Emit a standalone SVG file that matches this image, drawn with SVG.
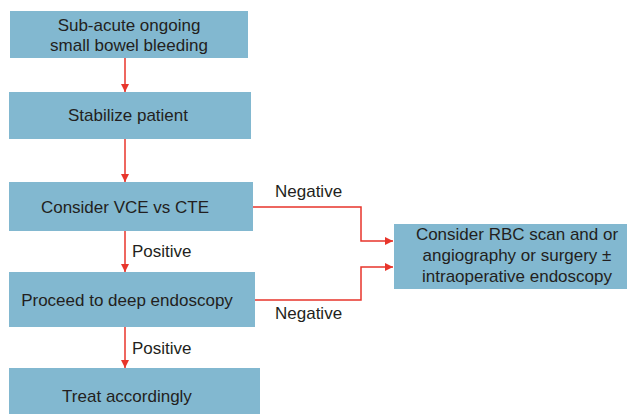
<svg xmlns="http://www.w3.org/2000/svg" width="632" height="415" viewBox="0 0 632 415">
<defs>
<style>
.box{fill:#82b8d0;}
.t{font-family:"Liberation Sans",Arial,sans-serif;font-size:17px;fill:#231f20;text-anchor:middle;}
.l{font-family:"Liberation Sans",Arial,sans-serif;font-size:17px;fill:#231f20;}
.c{fill:none;stroke:#e8352b;stroke-width:1.5;}
</style>
<marker id="ah" viewBox="0 0 10 10" refX="10" refY="5" markerWidth="8" markerHeight="8" markerUnits="userSpaceOnUse" orient="auto">
<path d="M0,0 L10,5 L0,10 z" fill="#e8352b"/>
</marker>
</defs>
<rect width="632" height="415" fill="#ffffff"/>
<g id="n1"><rect class="box" x="10" y="11" width="238" height="47"/><text class="t" x="129" y="31">Sub-acute ongoing</text><text class="t" x="129" y="51">small bowel bleeding</text></g>
<g id="n2"><rect class="box" x="9" y="92" width="242" height="47"/><text class="t" x="128" y="121">Stabilize patient</text></g>
<g id="n3"><rect class="box" x="9" y="182" width="244" height="49"/><text class="t" x="125" y="213">Consider VCE vs CTE</text></g>
<g id="n4"><rect class="box" x="9" y="272" width="246" height="55"/><text class="t" x="127" y="306">Proceed to deep endoscopy</text></g>
<g id="n5"><rect class="box" x="9" y="368" width="251" height="46"/><text class="t" x="127" y="402">Treat accordingly</text></g>
<g id="n6"><rect class="box" x="394" y="224" width="233" height="65"/><text class="t" x="517" y="240">Consider RBC scan and or</text><text class="t" x="517" y="261">angiography or surgery ±</text><text class="t" x="517" y="282">intraoperative endoscopy</text></g>
<g id="connectors">
<path class="c" d="M125,58 V92" marker-end="url(#ah)"/>
<path class="c" d="M125,139 V182" marker-end="url(#ah)"/>
<path class="c" d="M125,231 V272" marker-end="url(#ah)"/>
<path class="c" d="M125,327 V368" marker-end="url(#ah)"/>
<path class="c" d="M253,207 H361 V241 H393" marker-end="url(#ah)"/>
<path class="c" d="M255,300 H361 V267 H393" marker-end="url(#ah)"/>
<text class="l" x="132" y="257">Positive</text>
<text class="l" x="132" y="354">Positive</text>
<text class="l" x="275" y="197">Negative</text>
<text class="l" x="275" y="319">Negative</text>
</g>
</svg>
